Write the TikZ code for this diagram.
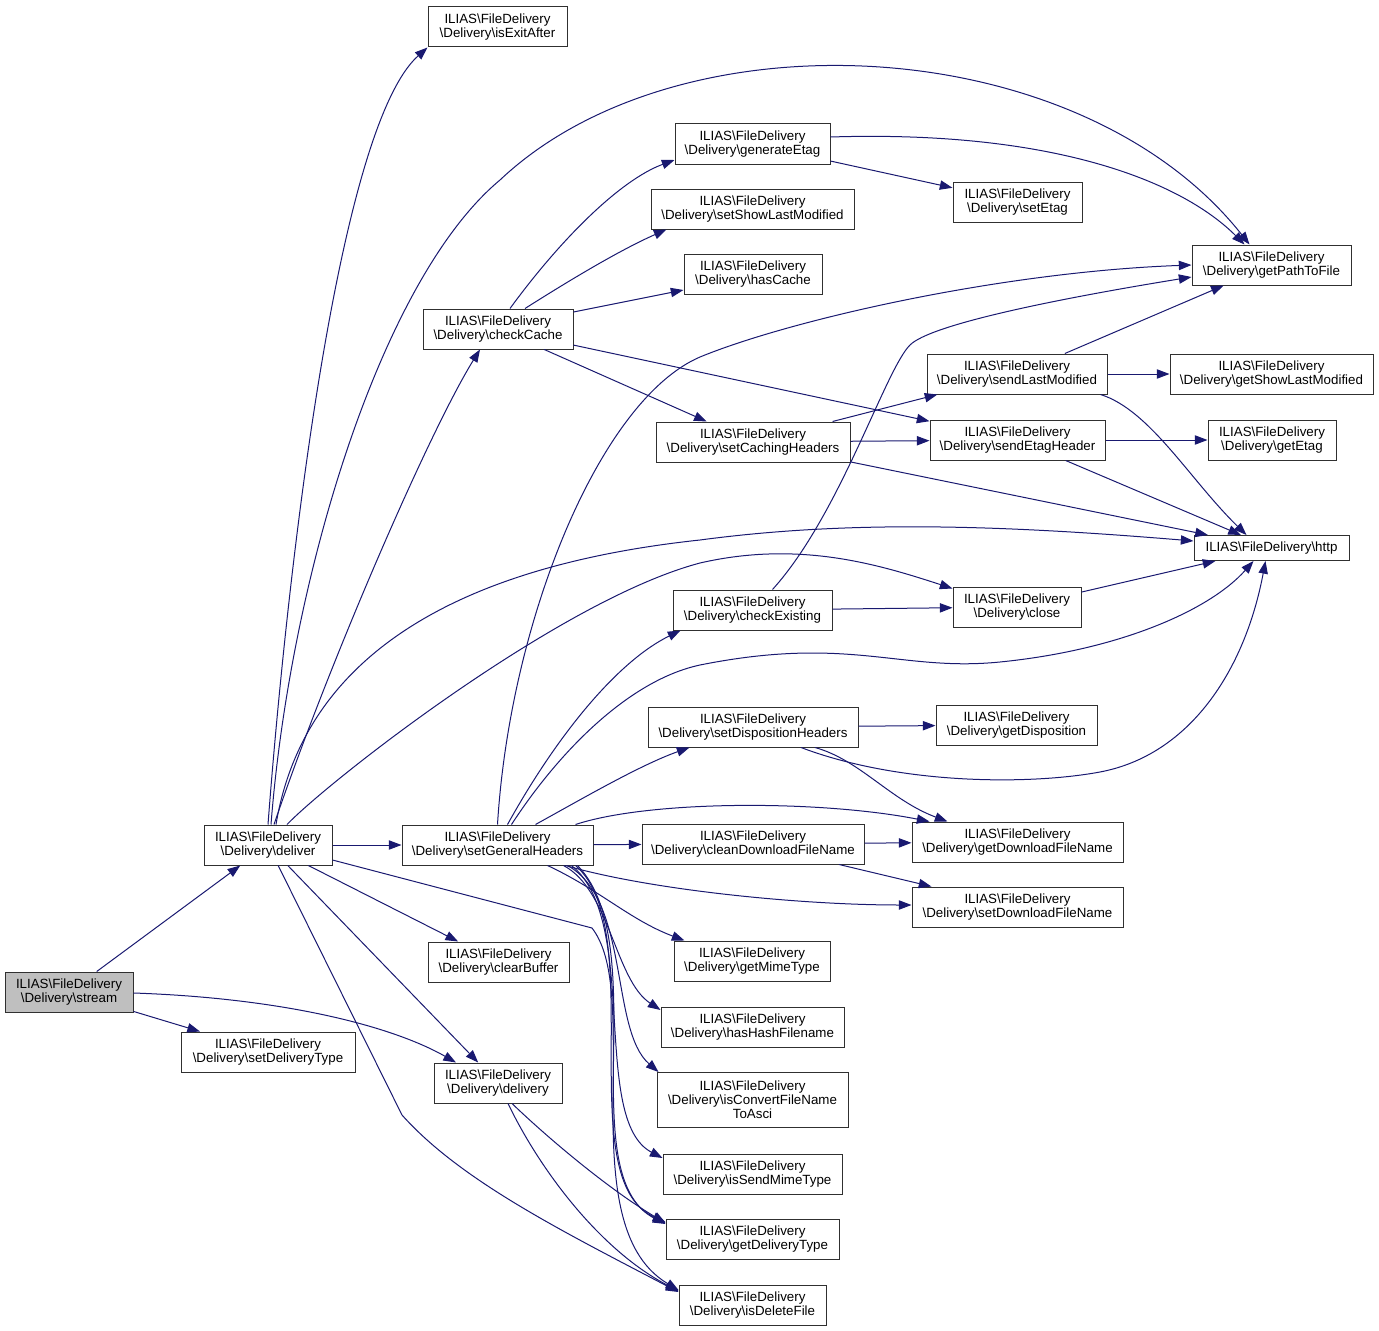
\documentclass[tikz,border=0pt]{standalone}
\usepackage{fontspec}
\setmainfont{Liberation Sans}
\usepackage{tikz}
\usetikzlibrary{arrows.meta,calc}
\definecolor{midnight}{HTML}{191970}
\definecolor{boxline}{HTML}{303030}
\tikzstyle{func}=[draw=boxline, line width=0.75pt, rectangle, align=center, inner xsep=4pt, inner ysep=2pt, minimum height=30pt, font=\fontsize{10pt}{10.5pt}\selectfont]
\tikzstyle{call}=[draw=midnight, line width=0.75pt, -{Triangle[length=9.5pt,width=7pt]}, fill=none]
\newcommand{\dlv}[1]{ILIAS\textbackslash FileDelivery\\\textbackslash Delivery\textbackslash #1}

\begin{document}
\begin{tikzpicture}[x=0.75pt, y=-0.75pt]
            \useasboundingbox (0,0) rectangle (1379,1331);

            \node[func, fill=gray!50, minimum width=96pt] (stream) at (69,992) {\dlv{stream}};
            \node[func, minimum width=96pt] (deliver) at (268,845) {\dlv{deliver}};
            \node[func, minimum width=130.5pt] (setDeliveryType) at (268,1052) {\dlv{setDeliveryType}};
            \node[func, minimum width=104.25pt] (isExitAfter) at (497.5,27) {\dlv{isExitAfter}};
            \node[func, minimum width=112.5pt] (checkCache) at (498,329) {\dlv{checkCache}};
            \node[func, minimum width=143.25pt] (setGeneralHeaders) at (497.5,845) {\dlv{setGeneralHeaders}};
            \node[func, minimum width=105.75pt] (clearBuffer) at (498.5,962) {\dlv{clearBuffer}};
            \node[func, minimum width=96pt] (delivery) at (498,1083) {\dlv{delivery}};

            \node[func, minimum width=116.25pt] (generateEtag) at (752.5,144) {\dlv{generateEtag}};
            \node[func, minimum width=152.25pt] (setShowLastModified) at (752.5,209) {\dlv{setShowLastModified}};
            \node[func, minimum width=103.5pt] (hasCache) at (753,274) {\dlv{hasCache}};
            \node[func, minimum width=145.5pt] (setCachingHeaders) at (753,442) {\dlv{setCachingHeaders}};
            \node[func, minimum width=119.25pt] (checkExisting) at (752.5,610) {\dlv{checkExisting}};
            \node[func, minimum width=157.5pt] (setDispositionHeaders) at (753,727) {\dlv{setDispositionHeaders}};
            \node[func, minimum width=166.5pt] (cleanDownloadFileName) at (753,844) {\dlv{cleanDownloadFileName}};
            \node[func, minimum width=117pt] (getMimeType) at (752,961) {\dlv{getMimeType}};
            \node[func, minimum width=137.25pt] (hasHashFilename) at (752.5,1027) {\dlv{hasHashFilename}};
            \node[func, minimum width=143.25pt, minimum height=41.25pt] (isConvertFileNameToAsci) at (752.5,1100) {ILIAS\textbackslash FileDelivery\\\textbackslash Delivery\textbackslash isConvertFileName\\ToAsci};
            \node[func, minimum width=134.25pt] (isSendMimeType) at (752.5,1174) {\dlv{isSendMimeType}};
            \node[func, minimum width=129.75pt] (getDeliveryType) at (752.5,1239) {\dlv{getDeliveryType}};
            \node[func, minimum width=110.25pt] (isDeleteFile) at (752.5,1305) {\dlv{isDeleteFile}};

            \node[func, minimum width=96.75pt] (setEtag) at (1017.5,202) {\dlv{setEtag}};
            \node[func, minimum width=135pt] (sendLastModified) at (1017,374) {\dlv{sendLastModified}};
            \node[func, minimum width=131.25pt] (sendEtagHeader) at (1017.5,440) {\dlv{sendEtagHeader}};
            \node[func, minimum width=96pt] (close) at (1017,607) {\dlv{close}};
            \node[func, minimum width=120.75pt] (getDisposition) at (1016.5,725) {\dlv{getDisposition}};
            \node[func, minimum width=158.25pt] (getDownloadFileName) at (1017.5,842) {\dlv{getDownloadFileName}};
            \node[func, minimum width=158.25pt] (setDownloadFileName) at (1017.5,907) {\dlv{setDownloadFileName}};

            \node[func, minimum width=119.25pt] (getPathToFile) at (1271.5,265) {\dlv{getPathToFile}};
            \node[func, minimum width=152.25pt] (getShowLastModified) at (1271.5,374) {\dlv{getShowLastModified}};
            \node[func, minimum width=96pt] (getEtag) at (1272,440) {\dlv{getEtag}};
            \node[func, minimum width=116.25pt, minimum height=18.75pt] (http) at (1271.5,548) {ILIAS\textbackslash FileDelivery\textbackslash http};

            \draw[call] (stream) -- (deliver);
            \draw[call] (stream) -- (setDeliveryType);
            \draw[call] ($(stream.east)+(0,1)$) .. controls (280,998) and (390,1025) .. ($(delivery.north)+(-42,0)$);

            \draw[call] (deliver.north) .. controls (285,600) and (335,130) .. (isExitAfter.south west);
            \draw[call] ($(deliver.north)+(3,0)$) .. controls (290,580) and (380,280) .. (500,180) .. controls (680,10) and (1080,30) .. ($(getPathToFile.north)+(-22,0)$);
            \draw[call] ($(deliver.north)+(6,0)$) .. controls (330,660) and (430,430) .. ($(checkCache.south)+(-18,0)$);
            \draw[call] ($(deliver.north)+(8,0)$) .. controls (300,680) and (420,570) .. (700,540) .. controls (850,520) and (1000,525) .. ($(http.west)+(0,-7)$);
            \draw[call] ($(deliver.north)+(19,0)$) .. controls (330,780) and (560,600) .. (700,563) .. controls (800,540) and (880,565) .. ($(close.north west)+(0,2)$);
            \draw[call] (deliver) -- (setGeneralHeaders);
            \draw[call] (deliver) -- (clearBuffer);
            \draw[call] (deliver) -- (delivery);
            \draw[call] ($(deliver.east)+(0,15)$) -- (592,928) .. controls (640,990) and (580,1180) .. ($(getDeliveryType.west)+(0,-15)$);
            \draw[call] (deliver) -- (402,1115) .. controls (460,1180) and (560,1230) .. ($(isDeleteFile.west)+(0,-13)$);

            \draw[call] ($(checkCache.north)+(12,0)$) .. controls (560,240) and (620,180) .. ($(generateEtag.west)+(0,16)$);
            \draw[call] ($(checkCache.north)+(27,0)$) .. controls (570,280) and (620,250) .. ($(setShowLastModified.south west)+(16,0)$);
            \draw[call] ($(checkCache.east)+(0,-17)$) -- ($(hasCache.west)+(0,16)$);
            \draw[call] (checkCache) -- (setCachingHeaders);
            \draw[call] (checkCache) -- (sendEtagHeader);

            \draw[call] (generateEtag) -- (setEtag);
            \draw[call] ($(generateEtag.east)+(0,-7)$) .. controls (1050,130) and (1180,180) .. ($(getPathToFile.north)+(-27,0)$);

            \draw[call] (setCachingHeaders) -- (sendLastModified);
            \draw[call] (setCachingHeaders) -- (sendEtagHeader);
            \draw[call] (setCachingHeaders) -- (http);

            \draw[call] (sendLastModified) -- (getPathToFile);
            \draw[call] (sendLastModified) -- (getShowLastModified);
            \draw[call] ($(sendLastModified.south east)+(-7,0)$) .. controls (1150,410) and (1190,480) .. ($(http.north)+(-25,0)$);
            \draw[call] (sendEtagHeader) -- (getEtag);
            \draw[call] (sendEtagHeader) -- (http);

            \draw[call] (close) -- (http);
            \draw[call] (checkExisting) -- (close);
            \draw[call] ($(checkExisting.north)+(20,0)$) .. controls (840,515) and (885,370) .. (910,345) .. controls (930,325) and (1050,300) .. ($(getPathToFile.west)+(0,12)$);

            \draw[call] (setGeneralHeaders.north) .. controls (510,620) and (600,400) .. (700,357) .. controls (790,320) and (1000,272) .. (getPathToFile.west);
            \draw[call] ($(setGeneralHeaders.north)+(10,0)$) .. controls (560,730) and (620,660) .. ($(checkExisting.south west)+(8,0)$);
            \draw[call] ($(setGeneralHeaders.north)+(14,0)$) .. controls (560,750) and (630,680) .. (700,665) .. controls (850,635) and (900,672) .. (1000,662) .. controls (1120,650) and (1210,610) .. ($(http.south)+(-18,0)$);
            \draw[call] ($(setGeneralHeaders.north)+(38,0)$) .. controls (580,800) and (640,765) .. ($(setDispositionHeaders.south west)+(42,0)$);
            \draw[call] ($(setGeneralHeaders.north east)+(-18,0)$) .. controls (650,800) and (820,800) .. ($(getDownloadFileName.north west)+(18,0)$);
            \draw[call] (setGeneralHeaders) -- (cleanDownloadFileName);
            \draw[call] ($(setGeneralHeaders.south east)+(-28,0)$) .. controls (650,890) and (800,905) .. ($(setDownloadFileName.west)+(0,-2)$);
            \draw[call] ($(setGeneralHeaders.south)+(50,0)$) .. controls (600,890) and (630,920) .. ($(getMimeType.north west)+(11,0)$);
            \draw[call] ($(setGeneralHeaders.south)+(66,0)$) .. controls (610,890) and (615,980) .. ($(hasHashFilename.west)+(0,-17)$);
            \draw[call] ($(setGeneralHeaders.south)+(70,0)$) .. controls (630,900) and (610,1030) .. ($(isConvertFileNameToAsci.north west)+(2,0)$);
            \draw[call] ($(setGeneralHeaders.south)+(74,0)$) .. controls (640,920) and (590,1120) .. ($(isSendMimeType.west)+(0,-16)$);
            \draw[call] ($(setGeneralHeaders.south)+(78,0)$) .. controls (650,930) and (570,1180) .. ($(getDeliveryType.west)+(0,-17)$);
            \draw[call] ($(setGeneralHeaders.south)+(80,0)$) .. controls (660,950) and (560,1220) .. ($(isDeleteFile.west)+(0,-15)$);

            \draw[call] (setDispositionHeaders) -- (getDisposition);
            \draw[call] ($(setDispositionHeaders.south)+(62,0)$) .. controls (860,760) and (890,800) .. ($(getDownloadFileName.north west)+(36,0)$);
            \draw[call] ($(setDispositionHeaders.south)+(48,0)$) .. controls (900,785) and (1030,785) .. (1100,772) .. controls (1190,755) and (1245,670) .. ($(http.south)+(-6,0)$);

            \draw[call] (cleanDownloadFileName) -- (getDownloadFileName);
            \draw[call] (cleanDownloadFileName) -- (setDownloadFileName);

            \draw[call] ($(delivery.south)+(14,0)$) .. controls (550,1140) and (610,1190) .. ($(getDeliveryType.west)+(0,-16)$);
            \draw[call] ($(delivery.south)+(10,0)$) .. controls (540,1170) and (600,1250) .. ($(isDeleteFile.west)+(0,-14)$);
        \end{tikzpicture}
\end{document}
